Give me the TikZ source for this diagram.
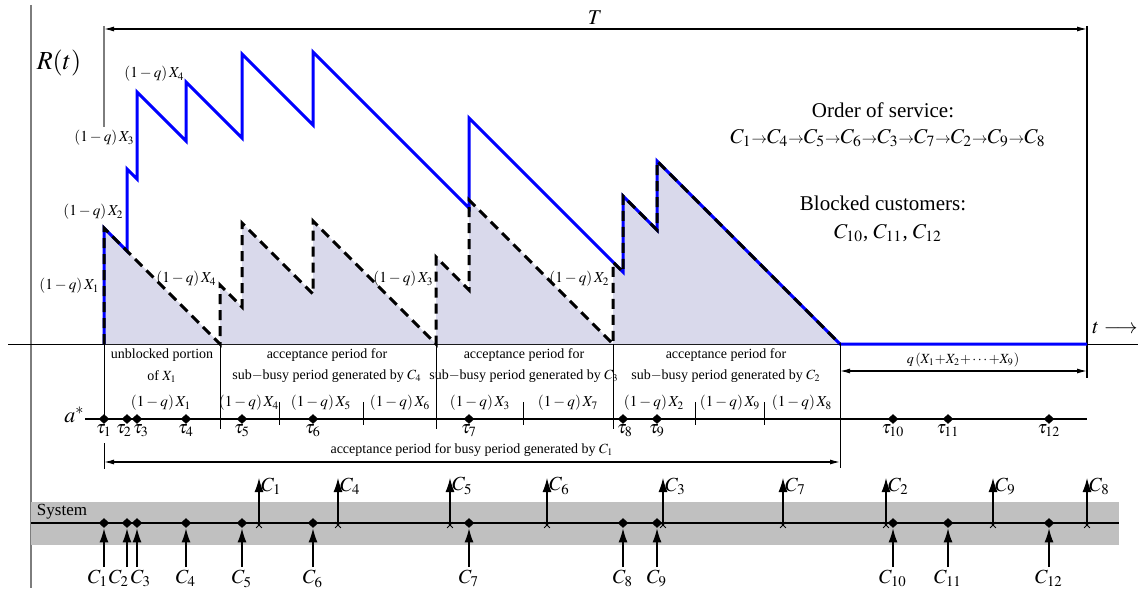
\documentclass[tikz,border=0pt]{standalone}
\usepackage{mathptmx}
\usepackage[no-math]{fontspec}
\setmainfont{Liberation Serif}
\usetikzlibrary{arrows.meta,shapes.geometric,shapes.misc}

\definecolor{lavender}{RGB}{217,217,235}
\definecolor{bandgray}{RGB}{192,192,192}
\definecolor{axisgray}{RGB}{125,125,125}

\newcommand{\wk}[1]{$(1-q)\,X_{#1}$}
\newcommand{\nx}{{\scriptstyle\rightarrow}}

\begin{document}
\begin{tikzpicture}[x=0.5pt, y=-0.5pt, >={Latex[length=7pt,width=4.5pt]},
    every node/.style={font=\small, inner sep=1pt},
    load/.style={blue, line width=1.5pt},
    subload/.style={line width=1.5pt, dash pattern=on 5pt off 3pt},
    note/.style={font=\fontsize{7}{8}\selectfont},
    wnote/.style={font=\fontsize{7.6}{9}\selectfont},
    big/.style={font=\fontsize{10.5}{12}\selectfont},
    cust/.style={font=\fontsize{10}{12}\selectfont},
    arr/.style={diamond, fill, inner sep=0pt, minimum width=5.5pt, minimum height=5pt},
    dep/.style={cross out, draw, inner sep=0pt, minimum size=2.5pt, line width=0.4pt},
    span/.style={{Latex[length=5pt,width=2.5pt]}-{Latex[length=5pt,width=2.5pt]}, line width=0.6pt}]
  \useasboundingbox (0,0) rectangle (1138,588);
  % axes
  \draw[axisgray, line width=1pt] (31,5) -- (31,588);
  \draw[line width=0.5pt] (8,344) -- (1138,344);
  \node[font=\fontsize{13}{15}\selectfont] (Rt) at (59,63) {$R(t)$};
  \node[big] (tax) at (1115,328) {$t\longrightarrow$};
  % horizon T
  \coordinate (Tl) at (104,29);
  \coordinate (Tr) at (1087,29);
  \draw[axisgray, line width=0.8pt] (104,26) -- (104,127);
  \draw[line width=0.6pt] (1087,26) -- (1087,378);
  \draw[span] (Tl) -- (Tr);
  \node[big] (T) at (595,18) {$T$};
  % workload
  \fill[lavender] (104,344) -- (104,228) -- (220,344) -- (220,285) -- (242,307) -- (242,223)
    -- (313,294) -- (313,221) -- (436,344) -- (436,257) -- (469,290) -- (469,200) -- (613,344)
    -- (613,262) -- (623,272) -- (623,196) -- (657,230) -- (657,161) -- (840,344) -- cycle;
  \draw[load] (104,344) -- (104,228) -- (127,251) -- (127,169) -- (137,179) -- (137,92)
    -- (186,141) -- (186,82) -- (242,138) -- (242,54) -- (313,125) -- (313,52) -- (469,208)
    -- (469,118) -- (623,272) -- (623,196) -- (657,230) -- (657,161) -- (840,344) -- (1087,344);
  \draw[subload] (104,344) -- (104,228) -- (220,344) -- (220,285) -- (242,307) -- (242,223)
    -- (313,294) -- (313,221) -- (436,344) -- (436,257) -- (469,290) -- (469,200) -- (613,344)
    -- (613,262) -- (623,272) -- (623,196) -- (657,230) -- (657,161) -- (840,344);
  \node[wnote, anchor=east] (w4) at (187,74) {\wk{4}};
  \node[wnote, anchor=east] (w3) at (137,138) {\wk{3}};
  \node[wnote, anchor=east] (w2) at (126,212) {\wk{2}};
  \node[wnote, anchor=east] (w1) at (102,286) {\wk{1}};
  \node[wnote, anchor=east] (v4) at (219,279) {\wk{4}};
  \node[wnote, anchor=east] (v3) at (436,279) {\wk{3}};
  \node[wnote, anchor=east] (v2) at (612,279) {\wk{2}};
  \node[big] (order) at (883,110) {Order of service:};
  \node[big] (chain) at (888,138) {$C_1\nx C_4\nx C_5\nx C_6\nx C_3\nx C_7\nx C_2\nx C_9\nx C_8$};
  \node[big] (blocked) at (883,203) {Blocked customers:};
  \node[big] (blk) at (888,233) {$C_{10}$, $C_{11}$, $C_{12}$};
  % periods
  \draw (104,344) -- (104,419);
  \foreach \x in {220,436,613} \draw (\x,344) -- (\x,429);
  \draw (840,344) -- (840,468);
  \draw (104,443) -- (104,469);
  \foreach \x in {279,363,523,695,764} \draw (\x,402) -- (\x,425);
  \node[note] (p1) at (162,355) {unblocked portion};
  \node[note] (p1b) at (162,377) {of $X_1$};
  \foreach \x/\c in {327/4,524/3,726/2} {
    \node[note] (p\c) at (\x,355) {acceptance period for};
    \node[note] (p\c b) at (\x,376) {sub$-$busy period generated by $C_{\c}$};
  }
  \draw[span] (840,371) -- (1087,371);
  \node[note] (rest) at (963,360) {$q\,(X_1{+}X_2{+}\cdots{+}X_9)$};
  % arrival epochs
  \draw[line width=0.6pt] (85,419) -- (1087,419);
  \node[font=\fontsize{11}{12}\selectfont, anchor=east] (astar) at (87,415) {$a^*$};
  \foreach \x/\i in {161/1,249/4,321/5,400/6,480/3,568/7,654/2,730/9,802/8}
    \node[wnote] (s\i) at (\x,403) {\wk{\i}};
  \foreach \x/\i/\d in {104/1/0,127/2/-3,137/3/4,186/4/0,242/5/0,313/6/0,469/7/0,623/8/2,657/9/0,893/10/0,948/11/0,1049/12/0} {
    \node[arr] (t\i) at (\x,419) {};
    \node[font=\fontsize{9}{10}\selectfont, anchor=north] (tl\i) at (\x+\d,422) {$\tau_{\i}$};
  }
  \draw[span] (104,462) -- (840,462);
  \node[note] (busy) at (472,450) {acceptance period for busy period generated by $C_1$};
  % system
  \fill[bandgray] (31,502) rectangle (1119,545);
  \draw[line width=0.6pt] (31,523) -- (1119,523);
  \node[font=\fontsize{8.5}{10}\selectfont] (sys) at (62,512) {System};
  \foreach \x/\i/\d in {104/1/-6,127/2/-8,137/3/4,186/4/0,242/5/0,313/6/0,469/7/0,623/8/0,657/9/0,893/10/0,948/11/0,1049/12/0} {
    \node[arr] (a\i) at (\x,523) {};
    \coordinate (b\i) at (\x,567);
    \draw[->, line width=0.6pt] (b\i) -- (a\i.south);
    \node[cust, anchor=north] (A\i) at (\x+\d,568) {$C_{\i}$};
  }
  \foreach \x/\i in {259/1,338/4,450/5,547/6,663/3,783/7,886/2,993/9,1087/8} {
    \node[dep] (d\i) at (\x,525) {};
    \coordinate (e\i) at (\x,478);
    \draw[->, line width=0.6pt] (\x,523) -- (e\i);
    \node[cust, anchor=west] (D\i) at (\x,486) {$C_{\i}$};
  }
\end{tikzpicture}
\end{document}
